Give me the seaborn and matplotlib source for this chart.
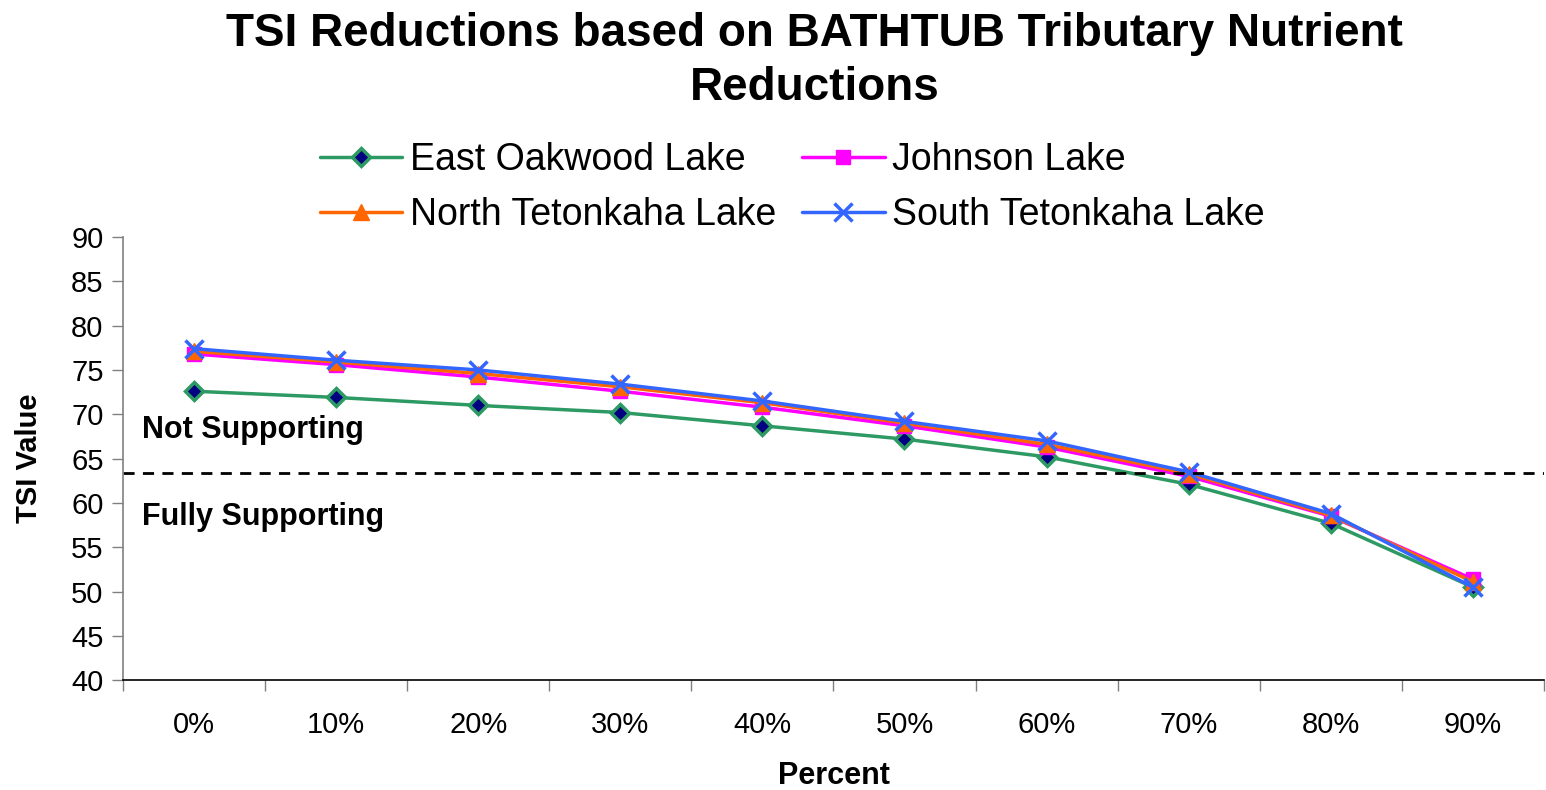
import pandas as pd
import numpy as np
import seaborn as sns
import matplotlib.pyplot as plt

percent = ['0%', '10%', '20%', '30%', '40%', '50%', '60%', '70%', '80%', '90%']
east_oakwood = [72.6, 71.9, 71.0, 70.2, 68.7, 67.2, 65.2, 62.1, 57.7, 50.5]
johnson = [76.8, 75.6, 74.2, 72.6, 70.8, 68.7, 66.3, 63.0, 58.5, 51.4]
north_tet = [77.1, 75.9, 74.6, 73.1, 71.3, 69.0, 66.6, 63.3, 58.6, 51.1]
south_tet = [77.4, 76.1, 75.0, 73.4, 71.5, 69.2, 67.0, 63.5, 58.8, 50.5]
threshold = 63.4

names = ['East Oakwood Lake', 'Johnson Lake', 'North Tetonkaha Lake', 'South Tetonkaha Lake']
series = [east_oakwood, johnson, north_tet, south_tet]
# line colour, marker, face, edge, size
styles = [
    ('#2e9a63', 'D', '#000080', '#2e9a63', 9),
    ('#ff00ff', 's', '#ff00ff', '#ff00ff', 10),
    ('#ff6600', '^', '#ff6600', '#ff6600', 12),
    ('#3366ff', 'x', '#3366ff', '#3366ff', 13),
]

sns.set_style('white')
plt.rcParams['font.family'] = ['Liberation Sans', 'DejaVu Sans']
plt.rcParams['text.color'] = 'black'
plt.rcParams['axes.labelcolor'] = 'black'
plt.rcParams['xtick.color'] = 'black'
plt.rcParams['ytick.color'] = 'black'

fig = plt.figure(figsize=(15.46, 7.9), dpi=100)
ax = fig.add_axes([0.0796, 0.139, 0.919, 0.561])

for name, vals, (c, m, fc, ec, ms) in zip(names, series, styles):
    df = pd.DataFrame({'x': np.arange(len(percent)), 'y': vals})
    sns.lineplot(data=df, x='x', y='y', color=c, marker=m, markersize=ms,
                 markerfacecolor=fc, markeredgecolor=ec,
                 markeredgewidth=2.5 if m in ('D', 'x') else 1,
                 linewidth=2.5, label=name, ax=ax)

ax.axhline(threshold, color='black', linestyle=(0, (4, 3)), linewidth=2)

ax.set_xlim(-0.5, len(percent) - 0.5)
ax.set_ylim(40, 90)
ax.set_yticks(range(40, 91, 5))
ax.set_xticks(np.arange(len(percent)))
ax.set_xticklabels(percent)
ax.set_xticks(np.arange(len(percent) + 1) - 0.5, minor=True)
ax.tick_params(axis='x', which='major', length=0, pad=22, labelsize=21)
ax.tick_params(axis='x', which='minor', length=8, width=1, color='#808080', direction='out', bottom=True)
ax.tick_params(axis='y', length=8, width=1, color='#808080', direction='out', left=True, labelsize=21, pad=6)

for s in ['top', 'right']:
    ax.spines[s].set_visible(False)
ax.spines['left'].set_color('#808080')
ax.spines['bottom'].set_color('black')
ax.spines['left'].set_linewidth(1.2)
ax.spines['bottom'].set_linewidth(1.2)

ax.set_xlabel('Percent', fontsize=22, fontweight='bold', labelpad=16)
ax.set_ylabel('TSI Value', fontsize=21, fontweight='bold', labelpad=20)

ax.text(0.013, 0.564, 'Not Supporting', transform=ax.transAxes, fontsize=22, fontweight='bold', va='center')
ax.text(0.013, 0.368, 'Fully Supporting', transform=ax.transAxes, fontsize=22, fontweight='bold', va='center')

fig.suptitle('TSI Reductions based on BATHTUB Tributary Nutrient\nReductions',
             x=0.527, y=0.985, fontsize=33, fontweight='bold', linespacing=1.3)

handles, labels = ax.get_legend_handles_labels()
order = [0, 2, 1, 3]
ax.legend([handles[i] for i in order], [labels[i] for i in order],
          ncol=2, loc='lower center', bbox_to_anchor=(0.471, 0.975), frameon=False,
          fontsize=27, handlelength=2.2, handletextpad=0.2, columnspacing=0.7,
          labelspacing=0.5, borderaxespad=0)

fig.savefig('out.png', dpi=100)
